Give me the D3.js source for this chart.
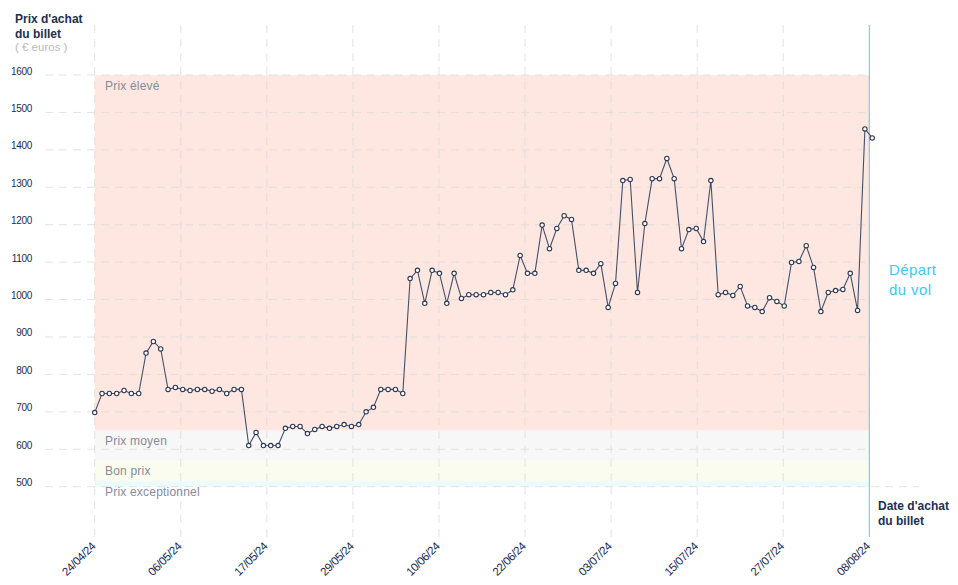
<!DOCTYPE html>
<html>
<head>
<meta charset="utf-8">
<script src="https://cdn.jsdelivr.net/npm/d3@7/dist/d3.min.js"></script>
<style>
  html, body { margin: 0; padding: 0; background: #ffffff; }
  svg { display: block; font-family: "Liberation Sans", Arial, Helvetica, sans-serif; }
</style>
</head>
<body>
<svg id="chart" width="958" height="585"></svg>
<script>
// ---------- DATA ----------
const startDate = "24/04/24";
// daily ticket price (euros), one value per day from 24/04/24
const prices = [
  698, 749, 749, 749, 757, 749, 749, 857, 888, 868,
  760, 765, 760, 757, 760, 760, 755, 760, 749, 760,
  760, 610, 645, 610, 610, 610, 656, 661, 661, 642,
  653, 661, 656, 661, 666, 661, 666, 700, 712, 760,
  760, 760, 749, 1056, 1078, 990, 1078, 1070, 990, 1070,
  1003, 1013, 1013, 1013, 1019, 1019, 1013, 1026, 1118, 1070,
  1070, 1199, 1136, 1190, 1224, 1214, 1078, 1078, 1070, 1096,
  979, 1043, 1318, 1321, 1019, 1203, 1323, 1323, 1377, 1323,
  1136, 1187, 1190, 1155, 1318, 1013, 1019, 1011, 1035, 983,
  979, 968, 1005, 995, 983, 1099, 1102, 1144, 1086, 968,
  1019, 1024, 1027, 1070, 971, 1456, 1432
];
const xTickLabels = ["24/04/24","06/05/24","17/05/24","29/05/24","10/06/24",
                     "22/06/24","03/07/24","15/07/24","27/07/24","08/08/24"];
const yTickValues = [500, 600, 700, 800, 900, 1000, 1100, 1200, 1300, 1400, 1500, 1600];
const bandNames  = ["Prix élevé", "Prix moyen", "Bon prix", "Prix exceptionnel"];
const bandLow    = [650, 570, 515, 500];
const bandHigh   = [1600, 650, 570, 515];
const bandColors = ["#fee7e1", "#f7f7f7", "#fbfcf0", "#edfafd"];
const departureDay = 105.6; // day offset of the flight departure (axis end)

// ---------- SCALES ----------
const svg = d3.select("#chart");
const x = d3.scaleLinear().domain([0, departureDay]).range([94.7, 869.3]);
const y = d3.scaleLinear().domain([500, 1600]).range([486.7, 75]);
const plotTop = 25, plotBottom = 537;

// ---------- BANDS ----------
const bands = bandNames.map((n, i) => ({name: n, lo: bandLow[i], hi: bandHigh[i], color: bandColors[i]}));
svg.append("g").selectAll("rect").data(bands).join("rect")
  .attr("x", x(0)).attr("width", x(departureDay) - x(0))
  .attr("y", d => y(d.hi)).attr("height", d => y(d.lo) - y(d.hi))
  .attr("fill", d => d.color);

// ---------- GRIDLINES ----------
const tickDays = d3.range(xTickLabels.length).map(k => k * departureDay / (xTickLabels.length - 1));
svg.append("g").selectAll("line").data(yTickValues).join("line")
  .attr("x1", 45).attr("x2", d => d === 500 ? 919 : x(departureDay))
  .attr("y1", d => y(d)).attr("y2", d => y(d))
  .attr("stroke", "#d9d9d9").attr("stroke-opacity", 0.75)
  .attr("stroke-width", 1).attr("stroke-dasharray", "8,6");
svg.append("g").selectAll("line").data(tickDays.slice(0, -1)).join("line")
  .attr("x1", d => x(d)).attr("x2", d => x(d))
  .attr("y1", plotTop).attr("y2", plotBottom)
  .attr("stroke", "#d9d9d9").attr("stroke-opacity", 0.75)
  .attr("stroke-width", 1).attr("stroke-dasharray", "8,6");

// ---------- BAND LABELS ----------
svg.append("g").selectAll("text").data(bands).join("text")
  .attr("x", 105).attr("y", d => y(d.hi) + 14.5)
  .attr("fill", "#868a9a").attr("font-size", 12).attr("letter-spacing", 0.2)
  .text(d => d.name);

// ---------- DEPARTURE LINE ----------
svg.append("line")
  .attr("x1", x(departureDay)).attr("x2", x(departureDay))
  .attr("y1", plotTop).attr("y2", plotBottom)
  .attr("stroke", "#5cc8ea").attr("stroke-width", 1);
const dep = svg.append("text").attr("fill", "#3fc7f0").attr("font-size", 15).attr("letter-spacing", 0.4);
dep.append("tspan").attr("x", 889).attr("y", 275).text("Départ");
dep.append("tspan").attr("x", 889).attr("y", 295).text("du vol");

// ---------- AXES ----------
const yAxis = d3.axisLeft(y).tickValues(yTickValues).tickSize(0).tickPadding(0).tickFormat(d3.format("d"));
const gy = svg.append("g").attr("transform", "translate(32,0)").call(yAxis);
gy.select(".domain").remove();
gy.selectAll("text").attr("dy", "-0.1em").attr("fill", "#1f2b47")
  .attr("font-size", 10).attr("letter-spacing", -0.3)
  .attr("font-family", "'Liberation Sans', Arial, sans-serif");

const xAxis = d3.axisBottom(x).tickValues(tickDays).tickSize(0).tickPadding(0)
  .tickFormat((d, i) => xTickLabels[i]);
const gx = svg.append("g").attr("transform", "translate(1,547)").call(xAxis);
gx.select(".domain").remove();
gx.selectAll("text").attr("y", 0).attr("dy", 0)
  .attr("text-anchor", "end").attr("transform", "rotate(-45)")
  .attr("fill", "#1c2844").attr("font-size", 11.5).attr("letter-spacing", -0.4)
  .attr("font-family", "'Liberation Sans', Arial, sans-serif");

// ---------- AXIS TITLES ----------
const yt = svg.append("text").attr("fill", "#22304d").attr("font-size", 12).attr("font-weight", "bold");
yt.append("tspan").attr("x", 15).attr("y", 23).text("Prix d'achat");
yt.append("tspan").attr("x", 15).attr("y", 38).text("du billet");
svg.append("text").attr("x", 15).attr("y", 51).attr("fill", "#b9b9b9").attr("font-size", 11.5)
  .text("( € euros )");
const xt = svg.append("text").attr("fill", "#22304d").attr("font-size", 12).attr("font-weight", "bold");
xt.append("tspan").attr("x", 878).attr("y", 510).text("Date d'achat");
xt.append("tspan").attr("x", 878).attr("y", 525).text("du billet");

// ---------- LINE + POINTS ----------
const pts = prices.map((v, i) => ({day: i, value: v}));
svg.append("path").datum(pts)
  .attr("fill", "none").attr("stroke", "#44506a").attr("stroke-width", 1.1)
  .attr("d", d3.line().x(d => x(d.day)).y(d => y(d.value)));
svg.append("g").selectAll("circle").data(pts).join("circle")
  .attr("cx", d => x(d.day)).attr("cy", d => y(d.value)).attr("r", 2.2)
  .attr("fill", "#ffffff").attr("stroke", "#2b3854").attr("stroke-width", 1.1);
</script>
</body>
</html>
